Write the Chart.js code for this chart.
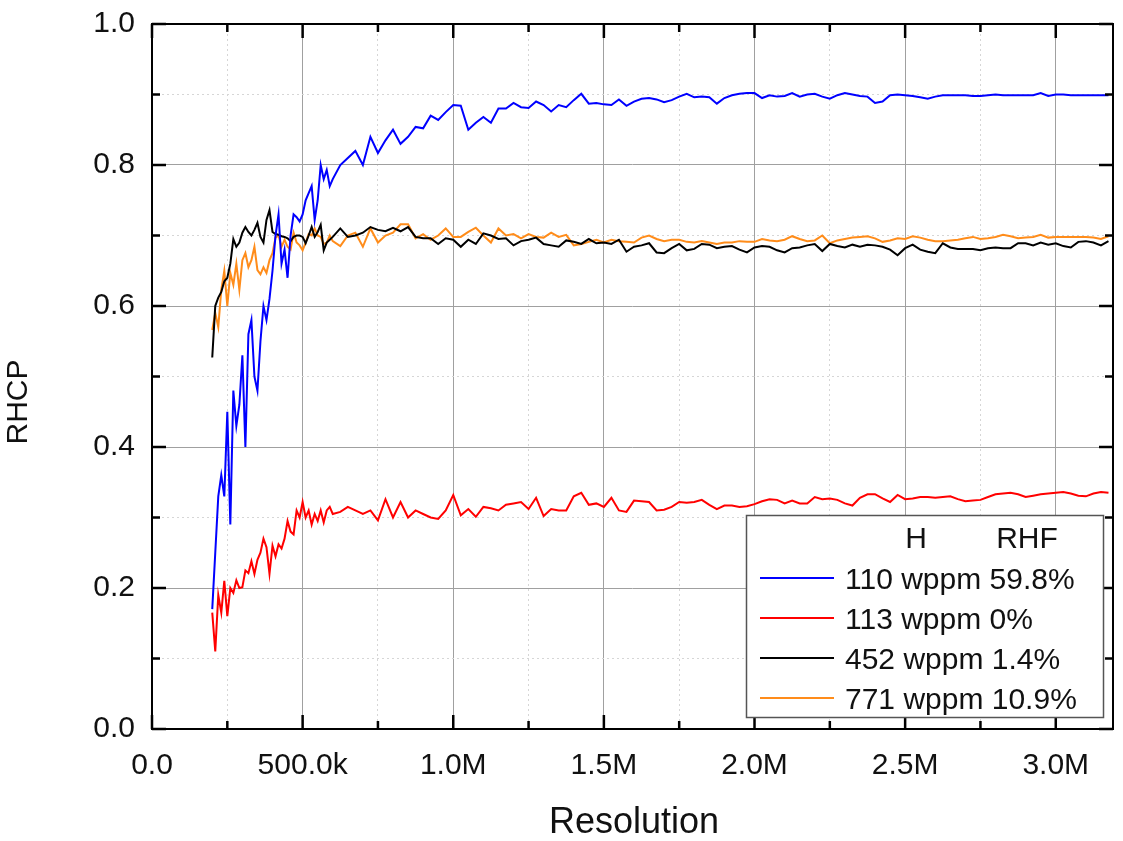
<!DOCTYPE html>
<html>
<head>
<meta charset="utf-8">
<script src="https://cdn.jsdelivr.net/npm/chart.js@4"></script>
<style>
body{margin:0;background:#fff;}
#wrap{width:1123px;height:841px;}
</style>
</head>
<body>
<div id="wrap"><canvas id="rhcpChart" width="1123" height="841"></canvas></div>
<script>

// resolution in thousands
let resolutionK=[
200,210,220,230,240,250,260,270,280,290,
300,310,320,330,340,350,360,370,380,390,
400,410,420,430,440,450,460,470,480,490,
500,510,520,530,540,550,560,570,580,590,
600,
625,650,675,700,725,750,775,800,825,850,875,900,925,950,975,
1000,1025,1050,1075,1100,1125,1150,1175,1200,1225,1250,1275,1300,1325,1350,1375,1400,1425,1450,1475,
1500,1525,1550,1575,1600,1625,1650,1675,1700,1725,1750,1775,1800,1825,1850,1875,1900,1925,1950,1975,
2000,2025,2050,2075,2100,2125,2150,2175,2200,2225,2250,2275,2300,2325,2350,2375,2400,2425,2450,2475,
2500,2525,2550,2575,2600,2625,2650,2675,2700,2725,2750,2775,2800,2825,2850,2875,2900,2925,2950,2975,
3000,3025,3050,3075,3100,3125,3150,3175
];

let rhcp110=[
0.17,0.25,0.33,0.36,0.33,0.45,0.29,0.48,0.43,0.46,
0.53,0.40,0.56,0.58,0.50,0.48,0.55,0.60,0.58,0.61,
0.65,0.70,0.73,0.66,0.68,0.64,0.70,0.73,0.726,0.72,
0.73,0.75,0.76,0.77,0.722,0.75,0.80,0.78,0.793,0.77,
0.78,
0.80,0.81,0.82,0.80,0.84,0.817,0.835,0.85,0.83,0.84,0.854,0.852,0.87,0.864,0.875,
0.885,0.884,0.850,0.86,0.868,0.86,0.88,0.88,0.888,0.882,0.881,0.89,0.885,0.876,0.885,0.882,0.892,0.901,0.887,0.888,
0.886,0.885,0.893,0.884,0.89,0.894,0.895,0.893,0.889,0.892,0.897,0.901,0.896,0.897,0.896,0.887,0.895,0.899,0.901,0.902,
0.902,0.895,0.899,0.897,0.898,0.902,0.897,0.900,0.901,0.897,0.894,0.899,0.902,0.900,0.898,0.897,0.888,0.890,0.899,0.900,
0.899,0.898,0.896,0.894,0.897,0.899,0.899,0.899,0.899,0.898,0.898,0.899,0.900,0.899,0.899,0.899,0.899,0.899,0.902,0.898,
0.900,0.900,0.899,0.899,0.899,0.899,0.899,0.899
];

let rhcp113=[
0.165,0.11,0.19,0.165,0.21,0.16,0.20,0.193,0.211,0.20,
0.201,0.225,0.221,0.238,0.22,0.24,0.25,0.27,0.258,0.22,
0.26,0.245,0.262,0.256,0.27,0.295,0.28,0.276,0.31,0.30,
0.322,0.30,0.31,0.29,0.305,0.295,0.31,0.293,0.31,0.315,
0.305,
0.308,0.315,0.31,0.305,0.31,0.296,0.326,0.30,0.322,0.30,0.31,0.305,0.30,0.298,0.31,
0.332,0.303,0.312,0.301,0.315,0.313,0.31,0.318,0.32,0.322,0.312,0.328,0.302,0.312,0.31,0.31,0.33,0.335,0.318,0.32,
0.315,0.328,0.31,0.308,0.324,0.323,0.322,0.31,0.311,0.315,0.322,0.321,0.322,0.325,0.318,0.312,0.317,0.317,0.315,0.316,
0.319,0.323,0.326,0.325,0.32,0.324,0.32,0.32,0.329,0.326,0.327,0.325,0.320,0.317,0.328,0.333,0.333,0.327,0.322,0.332,
0.326,0.327,0.329,0.329,0.328,0.329,0.330,0.326,0.323,0.324,0.325,0.329,0.333,0.334,0.335,0.333,0.329,0.331,0.333,0.334,
0.335,0.336,0.334,0.331,0.330,0.334,0.336,0.335
];

let rhcp452=[
0.527,0.60,0.612,0.62,0.635,0.64,0.66,0.695,0.684,0.69,
0.704,0.712,0.705,0.70,0.708,0.718,0.698,0.69,0.722,0.736,
0.705,0.702,0.701,0.699,0.698,0.696,0.692,0.698,0.700,0.700,
0.698,0.689,0.70,0.712,0.698,0.705,0.715,0.679,0.69,0.694,
0.698,
0.71,0.698,0.70,0.704,0.712,0.708,0.706,0.711,0.706,0.712,0.698,0.696,0.696,0.688,0.696,
0.694,0.684,0.694,0.688,0.703,0.700,0.695,0.696,0.686,0.692,0.694,0.697,0.688,0.686,0.684,0.693,0.691,0.688,0.695,0.689,
0.690,0.688,0.694,0.677,0.684,0.686,0.689,0.676,0.675,0.682,0.688,0.679,0.681,0.688,0.687,0.682,0.684,0.685,0.680,0.676,
0.683,0.685,0.684,0.679,0.676,0.682,0.683,0.686,0.688,0.678,0.688,0.685,0.683,0.687,0.684,0.687,0.686,0.684,0.680,0.672,
0.682,0.687,0.680,0.677,0.675,0.689,0.683,0.681,0.681,0.681,0.679,0.682,0.683,0.682,0.682,0.689,0.689,0.686,0.690,0.687,
0.689,0.685,0.683,0.691,0.692,0.690,0.686,0.692
];

let rhcp771=[
0.566,0.59,0.57,0.623,0.65,0.60,0.647,0.63,0.66,0.623,
0.665,0.675,0.655,0.665,0.684,0.651,0.645,0.655,0.647,0.665,
0.675,0.697,0.70,0.684,0.694,0.684,0.680,0.704,0.69,0.686,
0.679,0.69,0.702,0.700,0.710,0.700,0.698,0.688,0.690,0.700,
0.692,
0.685,0.700,0.704,0.684,0.710,0.690,0.700,0.704,0.716,0.716,0.696,0.702,0.694,0.700,0.710,
0.698,0.698,0.705,0.711,0.700,0.690,0.710,0.700,0.702,0.696,0.702,0.698,0.697,0.704,0.698,0.701,0.686,0.688,0.691,0.694,
0.690,0.694,0.692,0.691,0.690,0.697,0.700,0.695,0.692,0.694,0.694,0.691,0.690,0.692,0.690,0.688,0.690,0.690,0.692,0.691,
0.691,0.695,0.693,0.692,0.694,0.699,0.695,0.692,0.693,0.700,0.689,0.693,0.695,0.697,0.698,0.699,0.696,0.691,0.693,0.696,
0.695,0.699,0.697,0.694,0.692,0.692,0.693,0.694,0.696,0.698,0.695,0.696,0.698,0.701,0.699,0.696,0.697,0.698,0.701,0.697,
0.698,0.698,0.698,0.698,0.698,0.697,0.695,0.699
];

let xTickValues=[0,250000,500000,750000,1000000,1250000,1500000,1750000,2000000,2250000,2500000,2750000,3000000];
let seriesLabels=["110 wppm 59.8%","113 wppm 0%","452 wppm 1.4%","771 wppm 10.9%"];
let seriesColors=["#0000ff","#ff0000","#000000","#ff8c1a"];
let legendHeader=["H","RHF"];
let xTitle="Resolution";
let yTitle="RHCP";

let FONT="'Liberation Sans', Arial, sans-serif";
Chart.defaults.font.family=FONT;
Chart.defaults.color="#111";

function pts(vals){
return resolutionK.map((r,i)=>({x:r*1000,y:vals[i]}));
}

function isMajorX(v){ return Math.round(v/250000)%2===0; }
function isMajorY(v){ return Math.round(v*10)%2===0; }

function fmtX(v){
if(v===0) return "0.0";
if(v<1000000) return (v/1000).toFixed(1)+"k";
return (v/1000000).toFixed(1)+"M";
}

const frame={
id:"frame",
afterDraw(chart){

let ctx=chart.ctx;
let a=chart.chartArea;
let xs=chart.scales.x;
let ys=chart.scales.y;

ctx.save();
ctx.strokeStyle="#000";
ctx.lineWidth=2.5;
ctx.beginPath();

xs.ticks.forEach(t=>{
let px=xs.getPixelForValue(t.value);
let len=isMajorX(t.value)?14:8;
ctx.moveTo(px,a.bottom); ctx.lineTo(px,a.bottom-len);
ctx.moveTo(px,a.top); ctx.lineTo(px,a.top+len);
});

ys.ticks.forEach(t=>{
let py=ys.getPixelForValue(t.value);
let len=isMajorY(t.value)?14:8;
ctx.moveTo(a.left,py); ctx.lineTo(a.left+len,py);
ctx.moveTo(a.right,py); ctx.lineTo(a.right-len,py);
});
ctx.stroke();

ctx.lineWidth=2;
ctx.strokeRect(a.left,a.top,a.right-a.left,a.bottom-a.top);

// axis titles
ctx.fillStyle="#111";
ctx.font="36px "+FONT;
ctx.textAlign="center";
ctx.textBaseline="alphabetic";
ctx.fillText(xTitle,634,833);

ctx.save();
ctx.translate(27,402);
ctx.rotate(-Math.PI/2);
ctx.font="30px "+FONT;
ctx.fillText(yTitle,0,0);
ctx.restore();

// legend box
let bx=746, by=515, bw=357, bh=202;
ctx.fillStyle="#fff";
ctx.fillRect(bx,by,bw,bh);
ctx.strokeStyle="#555";
ctx.lineWidth=1.5;
ctx.strokeRect(bx+0.5,by+0.5,bw,bh);

ctx.fillStyle="#111";
ctx.font="30px "+FONT;
ctx.textAlign="center";
ctx.fillText(legendHeader[0],916,548);
ctx.fillText(legendHeader[1],1027,548);

ctx.textAlign="left";
chart.data.datasets.forEach((ds,i)=>{
let cy=578+i*40;
ctx.strokeStyle=ds.borderColor;
ctx.lineWidth=2;
ctx.beginPath();
ctx.moveTo(760,cy);
ctx.lineTo(834,cy);
ctx.stroke();
ctx.fillText(ds.label,845,cy+11);
});

ctx.restore();

}
};

new Chart(document.getElementById("rhcpChart"),{

type:"line",

data:{
datasets:[rhcp110,rhcp113,rhcp452,rhcp771].map((vals,i)=>({
label:seriesLabels[i],
data:pts(vals),
borderColor:seriesColors[i],
backgroundColor:seriesColors[i],
borderWidth:2,
pointRadius:0,
tension:0,
fill:false
}))
},

options:{
responsive:false,
animation:false,
events:[],
layout:{padding:{left:0,top:24,right:10,bottom:0}},
plugins:{legend:{display:false},tooltip:{enabled:false}},
scales:{
x:{
type:"linear",
min:0,
max:3190000,
afterBuildTicks:s=>{ s.ticks=xTickValues.map(v=>({value:v})); },
afterFit:s=>{ s.height=112; s.paddingLeft=0; s.paddingRight=0; },
ticks:{
autoSkip:false,
maxRotation:0,
padding:19,
color:"#111",
font:{size:30},
callback:v=>isMajorX(v)?fmtX(v):""
},
grid:{
drawTicks:false,
lineWidth:1,
color:c=>isMajorX(c.tick.value)?"#a0a0a0":"#d6d6d6"
},
border:{display:false,dash:c=>isMajorX(c.tick.value)?[]:[2,3]}
},
y:{
min:0,
max:1,
afterFit:s=>{ s.width=152; s.paddingTop=0; s.paddingBottom=0; },
ticks:{
stepSize:0.1,
autoSkip:false,
padding:17,
color:"#111",
font:{size:30},
callback:v=>isMajorY(v)?v.toFixed(1):""
},
grid:{
drawTicks:false,
lineWidth:1,
color:c=>isMajorY(c.tick.value)?"#a0a0a0":"#d6d6d6"
},
border:{display:false,dash:c=>isMajorY(c.tick.value)?[]:[2,3]}
}
}
},

plugins:[frame]

});

</script>
</body>
</html>
